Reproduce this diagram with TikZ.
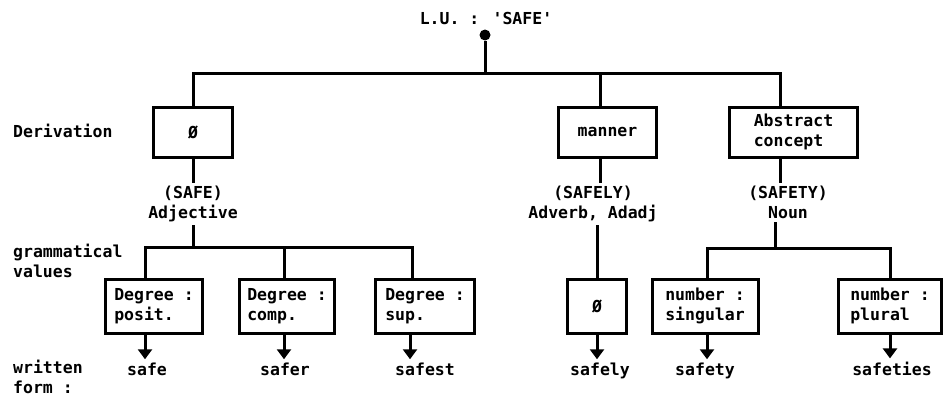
\documentclass[tikz,border=0pt]{standalone}
\usepackage{fontspec}
\newfontfamily\typefont{DejaVu Sans Mono}
\usepackage{tikz}
\usetikzlibrary{positioning,arrows.meta}

\begin{document}
\begin{tikzpicture}[
    x=1pt, y=-1pt,
    font=\typefont\bfseries\fontsize{16.5}{20}\selectfont,
    box/.style={draw, line width=3pt, minimum height=50pt, align=left, inner xsep=8pt},
    vbox/.style={box, minimum height=54pt},
    line/.style={line width=3pt},
    arrow/.style={line width=3pt, -{Triangle[width=14pt,length=10pt]}},
    word/.style={align=center, inner sep=3pt},
    catword/.style={word, anchor=north},
    formword/.style={word, anchor=base},
    side/.style={anchor=west, align=left, inner sep=0pt},
    dot/.style={circle, fill, inner sep=0pt, minimum size=11pt}
  ]
    \useasboundingbox (0,0) rectangle (944,399);

    % root
    \node[word] (lu) at (486,18) {L.U. : 'SAFE'};
    \node[dot] (root) at (485,35) {};
    \coordinate (top) at (485,73);

    % derivation level
    \node[box, minimum width=79pt] (deriv0) at (193,132) {Ø};
    \node[box, minimum width=98pt, right=323pt of deriv0] (manner) {manner};
    \node[box, minimum width=128pt, right=70pt of manner] (abstr) {Abstract\\concept};

    \node[catword] (adj) at (193,183) {(SAFE)\\Adjective};
    \node[catword] (adv) at (593,183) {(SAFELY)\\Adverb, Adadj};
    \node[catword] (noun) at (788,183) {(SAFETY)\\Noun};

    % grammatical values
    \node[vbox, minimum width=97pt] (posit) at (154,306) {Degree :\\posit.};
    \node[vbox, minimum width=95pt] (comp) at (287,306) {Degree :\\comp.};
    \node[vbox, minimum width=99pt] (sup) at (425,306) {Degree :\\sup.};
    \node[vbox, minimum width=59pt] (zero) at (597,306) {Ø};
    \node[vbox, minimum width=106pt] (sing) at (705,306) {number :\\singular};
    \node[vbox, minimum width=103pt] (plur) at (890,306) {number :\\plural};
    \coordinate (abar) at (193,247);
    \coordinate (nbar) at (775,248);

    % written forms
    \node[formword] (safe) at (147,375) {safe};
    \node[formword] (safer) at (285,375) {safer};
    \node[formword] (safest) at (425,375) {safest};
    \node[formword] (safely) at (600,375) {safely};
    \node[formword] (safety) at (705,375) {safety};
    \node[formword] (safeties) at (892,375) {safeties};

    % side labels
    \node[side] (lderiv) at (13,131) {Derivation};
    \node[side] (lgram) at (13,261) {grammatical\\values};
    \node[side] (lwritten) at (13,377) {written\\form :};

    \draw[line] (root) -- (top);
    \draw[line] (deriv0.north) |- ([xshift=-13pt]abstr.north |- top) -- ([xshift=-13pt]abstr.north);
    \draw[line] ([xshift=-7pt]manner.north) -- ([xshift=-7pt]manner.north |- top);

    \draw[line] (deriv0.south) -- (adj.north);
    \draw[line] ([xshift=-7pt]manner.south) -- ([xshift=-7pt]manner.south |- adv.north);
    \draw[line] ([xshift=-13pt]abstr.south) -- ([xshift=-13pt]abstr.south |- noun.north);

    \draw[line] (adj.south) -- (abar);
    \draw[line] ([xshift=-9pt]posit.north) |- (abar) -| ([xshift=-13pt]sup.north);
    \draw[line] ([xshift=-3pt]comp.north) -- ([xshift=-3pt]comp.north |- abar);
    \draw[line] (zero.north |- adv.south) -- (zero.north);
    \draw[line] (noun.south -| nbar) -- (nbar);
    \draw[line] ([xshift=2pt]sing.north) |- (nbar) -| (plur.north);

    \draw[arrow] ([xshift=-9pt]posit.south) -- ([xshift=-9pt]posit.south |- safe.north);
    \draw[arrow] ([xshift=-3pt]comp.south) -- ([xshift=-3pt]comp.south |- safer.north);
    \draw[arrow] ([xshift=-15pt]sup.south) -- ([xshift=-15pt]sup.south |- safest.north);
    \draw[arrow] (zero.south) -- (zero.south |- safely.north);
    \draw[arrow] ([xshift=2pt]sing.south) -- ([xshift=2pt]sing.south |- safety.north);
    \draw[arrow] (plur.south) -- (plur.south |- safeties.north);
  \end{tikzpicture}
\end{document}
